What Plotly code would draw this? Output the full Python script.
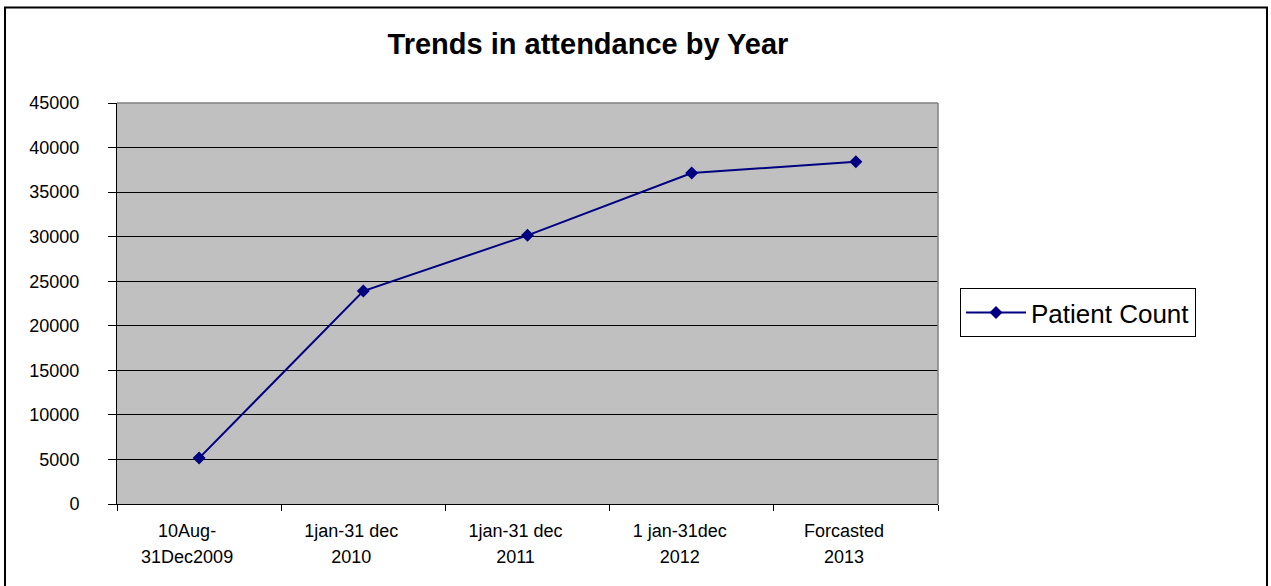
import plotly.graph_objects as go

# Attendance periods and patient totals
period_lines = [
    ("10Aug-", "31Dec2009"),
    ("1jan-31 dec", "2010"),
    ("1jan-31 dec", "2011"),
    ("1 jan-31dec", "2012"),
    ("Forcasted", "2013"),
]
patient_count = [5150, 23900, 30150, 37150, 38400]
y_ticks = list(range(0, 45001, 5000))

# two-line category labels; the outer font size sets the line spacing
periods = ["<br>".join(f'<span style="font-size:18px">{s}</span>' for s in pair)
           for pair in period_lines]

W, H = 1271, 586
L, R, T, B = 117, 333, 103, 82
pw, ph = W - L - R, H - T - B

def px_x(p):
    return (p - L) / pw

def px_y(p):
    return (H - B - p) / ph

fig = go.Figure()
fig.add_trace(go.Scatter(
    x=periods,
    y=patient_count,
    mode="lines+markers",
    name="Patient Count",
    line=dict(color="#000080", width=2),
    marker=dict(symbol="diamond", size=10, color="#000080"),
))

font = "Liberation Sans, Arial, sans-serif"

fig.update_layout(
    width=W, height=H,
    margin=dict(l=L, r=R, t=T, b=B),
    paper_bgcolor="white",
    plot_bgcolor="#C0C0C0",
    font=dict(family=font, color="black"),
    title=dict(
        text="<b>Trends in attendance by Year</b>",
        font=dict(size=29, family=font, color="black"),
        x=588 / W, xanchor="center",
        y=1 - 44 / H, yanchor="middle",
    ),
    showlegend=True,
    legend=dict(
        x=px_x(960), xanchor="left",
        y=px_y(312.5), yanchor="middle",
        bgcolor="white",
        bordercolor="black", borderwidth=1,
        font=dict(size=26, family=font, color="black"),
        itemwidth=60,
    ),
    xaxis=dict(
        type="category",
        range=[-0.5, 4.5],
        showgrid=False,
        showline=True, linecolor="black", linewidth=1,
        ticks="outside", tickson="boundaries", ticklen=6, tickcolor="black",
        tickfont=dict(size=20, family=font, color="black"),
        ticklabelstandoff=8,
        ticklabelshift=-12,
        zeroline=False,
        mirror=False,
    ),
    yaxis=dict(
        range=[0, 45000],
        tickvals=y_ticks,
        ticktext=[str(v) for v in y_ticks],
        showgrid=True, gridcolor="black", gridwidth=1,
        showline=True, linecolor="black", linewidth=1,
        ticks="outside", ticklen=8, tickcolor="black",
        tickfont=dict(size=18, family=font, color="black"),
        ticklabelstandoff=25,
        zeroline=False,
    ),
    shapes=[
        # grey frame on the top and right of the plotting area
        dict(type="line", xref="paper", yref="paper", x0=0, x1=1, y0=1, y1=1,
             line=dict(color="#808080", width=1.5)),
        dict(type="line", xref="paper", yref="paper", x0=1, x1=1, y0=0, y1=1,
             line=dict(color="#808080", width=1.5)),
        # outer chart border
        dict(type="rect", xref="paper", yref="paper",
             x0=px_x(5), x1=px_x(1267), y0=px_y(595), y1=px_y(7.5),
             line=dict(color="black", width=2), layer="above"),
    ],
)

fig.write_html("out.html")
